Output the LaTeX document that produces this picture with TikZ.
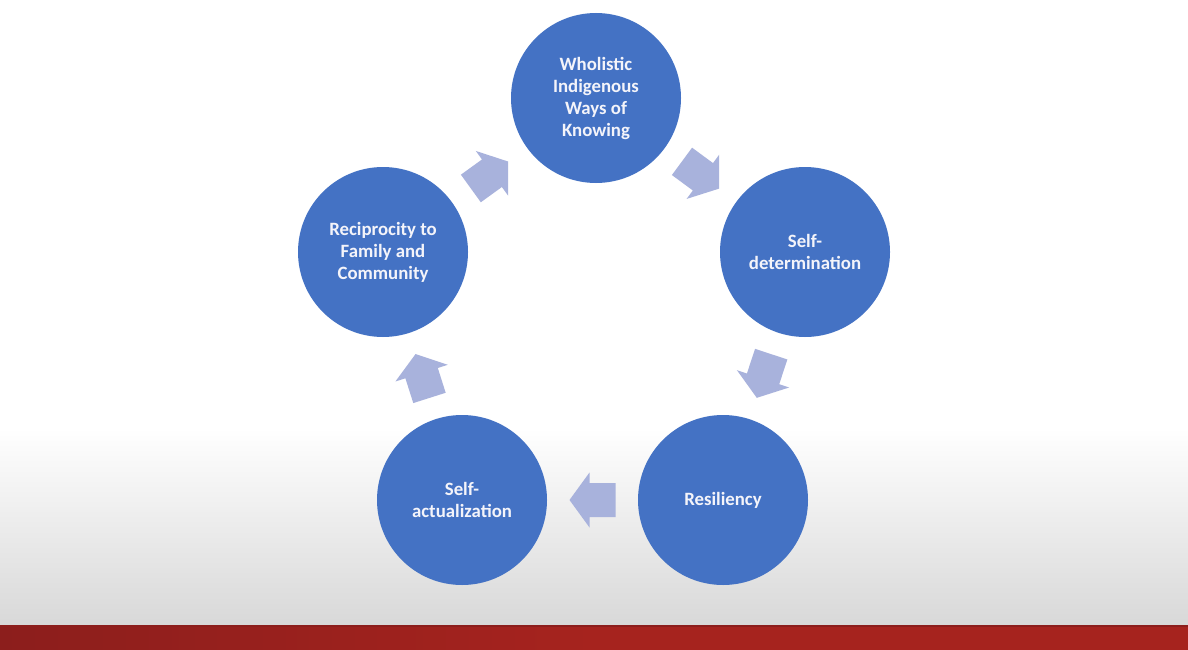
\documentclass[tikz,border=0pt]{standalone}
\usepackage{fontspec}
\setmainfont{Carlito}
\usetikzlibrary{calc}
\definecolor{circ}{RGB}{68,114,196}
\definecolor{arr}{RGB}{168,178,220}
\definecolor{band}{RGB}{166,35,30}
\definecolor{banddark}{RGB}{140,30,28}
\definecolor{greyb}{RGB}{216,216,216}
\definecolor{txt}{RGB}{244,244,250}
\tikzset{
  cyc/.style={circle, fill=circ, minimum size=170pt, inner sep=0pt, text=txt,
    font=\bfseries\fontsize{18.8}{22}\selectfont, align=center},
  blockarrow/.pic={\fill[arr] (-23,-17) -- (3,-17) -- (3,-27.5) -- (23,0) -- (3,27.5) -- (3,17) -- (-23,17) -- cycle;}
}
\newcommand\cycarrow[2]{\path let \p1=(#1.center), \p2=(#2.center), \n1={atan2(\y2-\y1,\x2-\x1)} in pic[rotate=\n1] at ($(#1.center)!0.5!(#2.center)$) {blockarrow};}
\begin{document}
\begin{tikzpicture}[x=1pt,y=-1pt]
\useasboundingbox (0,0) rectangle (1188,650);
\fill[white] (0,0) rectangle (1188,430);
\shade[top color=white, bottom color=greyb] (0,428) rectangle (1188,626);
\shade[left color=banddark, right color=band, middle color=band] (0,626) rectangle (1188,650);
\fill[banddark] (0,625) rectangle (1188,627);

\node[cyc] (wk) at (596,98) {Wholistic\\Indigenous\\Ways of\\Knowing};
\node[cyc] (sd) at (805,252) {Self-\\determination};
\node[cyc] (res) at (723,500) {Resiliency};
\node[cyc] (sa) at (462,500) {Self-\\actualization};
\node[cyc] (rf) at (383,252) {Reciprocity to\\Family and\\Community};

\cycarrow{wk}{sd}
\cycarrow{sd}{res}
\cycarrow{res}{sa}
\cycarrow{sa}{rf}
\cycarrow{rf}{wk}
\end{tikzpicture}
\end{document}
